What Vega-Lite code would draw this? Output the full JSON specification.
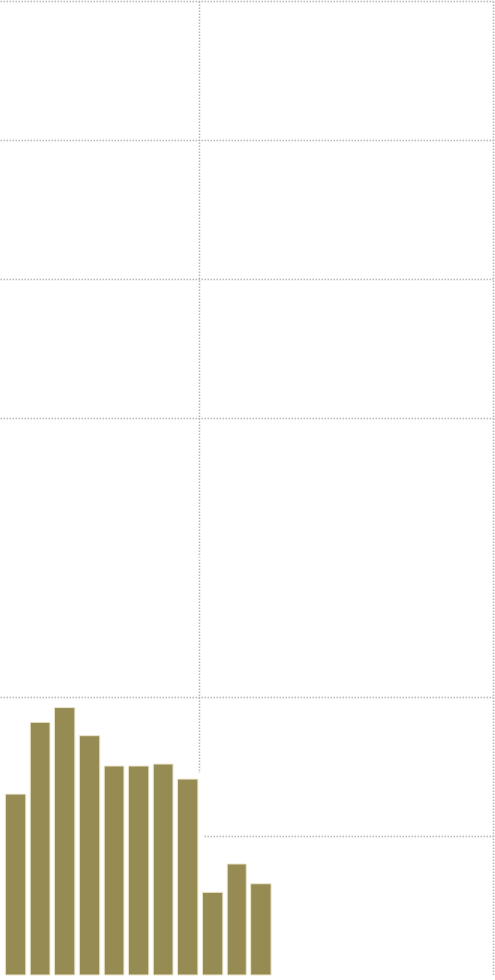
{
  "$schema": "https://vega.github.io/schema/vega-lite/v6.json",
  "width": 493,
  "height": 974,
  "autosize": {"type": "none"},
  "padding": {"left": 0, "top": 1, "right": 2, "bottom": 5},
  "background": "white",
  "config": {"view": {"stroke": null}},
  "data": {"values": [
    {"month": "2019-05-01", "value": 65.0},
    {"month": "2019-06-01", "value": 90.8},
    {"month": "2019-07-01", "value": 96.1},
    {"month": "2019-08-01", "value": 86.0},
    {"month": "2019-09-01", "value": 75.1},
    {"month": "2019-10-01", "value": 75.1},
    {"month": "2019-11-01", "value": 75.8},
    {"month": "2019-12-01", "value": 70.4},
    {"month": "2020-01-01", "value": 29.7},
    {"month": "2020-02-01", "value": 39.9},
    {"month": "2020-03-01", "value": 32.8}
  ]},
  "encoding": {
    "x": {
      "field": "month", "type": "temporal", "timeUnit": "utcyearmonth",
      "scale": {"domain": [{"year": 2019, "month": 4, "date": 29, "utc": true}, {"year": 2021, "month": 1, "date": 1, "utc": true}]},
      "axis": {
        "title": null, "labels": false, "ticks": false, "domain": false,
        "grid": true, "gridColor": "#b8b8b8", "gridDash": [1.5, 1.5], "gridWidth": 1.6,
        "values": [{"year": 2020, "month": 1, "date": 1, "utc": true}, {"year": 2021, "month": 1, "date": 1, "utc": true}]
      }
    },
    "y": {
      "field": "value", "type": "quantitative",
      "scale": {"domain": [0, 350], "nice": false},
      "axis": {
        "title": null, "labels": false, "ticks": false, "domain": false,
        "grid": true, "gridDash": [1.5, 1.5],
        "gridColor": {"condition": {"test": "datum.value === 150 || datum.value === 0", "value": "white"}, "value": "#b8b8b8"},
        "gridWidth": {"condition": {"test": "datum.value === 150", "value": 2}, "value": 1.6},
        "values": [0, 50, 100, 150, 200, 250, 300, 350]
      }
    }
  },
  "layer": [
    {"mark": {"type": "bar", "fill": "white", "stroke": "white", "strokeWidth": 12, "width": {"band": 0.86}, "xOffset": 1}},
    {"mark": {"type": "bar", "fill": "#968b53", "stroke": "#ece6cc", "strokeWidth": 1, "width": {"band": 0.86}, "xOffset": 1}}
  ]
}
